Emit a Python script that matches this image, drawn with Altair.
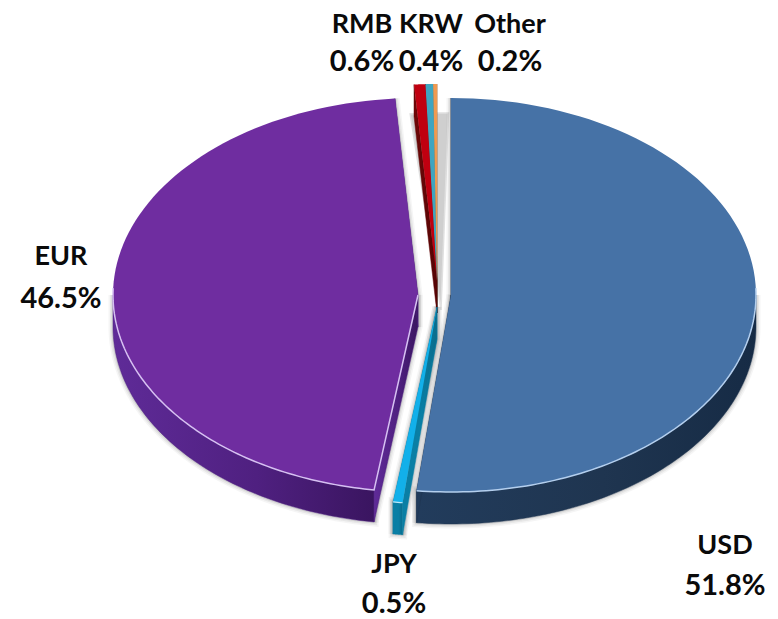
import math
import altair as alt

# Currency shares in percent, clockwise from twelve o'clock
currencies = ["USD", "JPY", "EUR", "RMB", "KRW", "Other"]
shares = [51.8, 0.5, 46.5, 0.6, 0.4, 0.2]

# Ellipse of the tilted pie and the thickness of the disc, in pixels
RX, RY, DEPTH = 305, 197, 32

# Exploded centre of each slice
centres = {
    "USD": (451, 295), "JPY": (437, 307), "EUR": (418, 295),
    "RMB": (437, 281), "KRW": (437, 281), "Other": (437, 281),
}
top_colours = {
    "USD": "#4672a6", "JPY": "#12b0ea", "EUR": "#6f2da0",
    "RMB": "#c00010", "KRW": "#3fa5c0", "Other": "#f09a50",
}
wall_colours = {
    "USD": ["#223c5c", "#1f3550", "#162b45"],
    "JPY": ["#0a7fa5", "#0a7fa5", "#0a6c8c"],
    "EUR": ["#5f2b98", "#4f2080", "#3a1560"],
    "RMB": ["#700808", "#600606", "#500505"],
    "KRW": ["#28707f", "#28707f", "#28707f"],
    "Other": ["#a86a30", "#a86a30", "#a86a30"],
}
rim_colours = {"USD": "#b4cfee", "EUR": "#d6c0f2", "JPY": "#bfeafa"}

# Cumulative start and end angle of each slice, in degrees
spans = {}
running = 0.0
for name, share in zip(currencies, shares):
    spans[name] = (running, running + share * 3.6)
    running += share * 3.6


def point(name, angle, drop=0.0):
    cx, cy = centres[name]
    t = math.radians(angle)
    return [cx + RX * math.sin(t), cy - RY * math.cos(t) + drop]


def sweep(a, b, steps=90):
    return [a + (b - a) * i / steps for i in range(steps + 1)]


def tip(name, drop=0.0):
    cx, cy = centres[name]
    return [cx, cy + drop]


def feature(kind, coords):
    geometry = {"type": kind, "coordinates": [coords] if kind == "Polygon" else coords}
    return alt.Data(values=[{"type": "Feature", "properties": {}, "geometry": geometry}])


def polygon(coords, **style):
    ring = coords + [coords[0]]
    return alt.Chart(feature("Polygon", ring)).mark_geoshape(**style)


def polyline(coords, **style):
    return alt.Chart(feature("LineString", coords)).mark_geoshape(filled=False, **style)


def wall_fill(name):
    low, mid, high = wall_colours[name]
    return alt.Gradient(
        gradient="linear", x1=0, x2=1, y1=0, y2=0,
        stops=[
            alt.GradientStop(offset=0, color=low),
            alt.GradientStop(offset=0.55, color=mid),
            alt.GradientStop(offset=1, color=high),
        ],
    )


def wall_faces(name):
    """Outer curved wall (front half only) and the two cut faces of a slice."""
    a, b = spans[name]
    faces = []
    front_a, front_b = max(a, 90), min(b, 270)
    if front_a < front_b:
        angles = sweep(front_a, front_b)
        faces.append(
            [point(name, t) for t in angles]
            + [point(name, t, DEPTH) for t in reversed(angles)]
        )
    for edge in (a, b):
        faces.append(
            [tip(name), point(name, edge), point(name, edge, DEPTH), tip(name, DEPTH)]
        )
    return faces


layers = []

# Soft grey shadows cast behind the thin slices at the back of the pie
shadow_cx, shadow_cy = 441, 310
shadow = [[shadow_cx, shadow_cy]] + [
    [shadow_cx + RX * math.sin(math.radians(t)), shadow_cy - RY * math.cos(math.radians(t))]
    for t in sweep(-5.8, 1.4, 10)
]
layers.append(polygon(shadow, fill="#bcbcbc", opacity=0.7, stroke="#d4d4d4", strokeWidth=1.5))

# Blurry halo around the disc walls
for name in ["EUR", "USD", "JPY"]:
    for face in wall_faces(name):
        for width, alpha in ((9, 0.08), (6, 0.12), (3, 0.2)):
            layers.append(
                polygon(face, fill="#808080", fillOpacity=0, stroke="#808080",
                        strokeWidth=width, strokeOpacity=alpha)
            )

# Walls, painted back to front
for name in ["Other", "KRW", "RMB", "EUR", "USD", "JPY"]:
    for face in wall_faces(name):
        layers.append(polygon(face, fill=wall_fill(name), stroke=wall_colours[name][1], strokeWidth=0.5))

# Top faces of the slices
for name in ["EUR", "USD", "RMB", "KRW", "Other", "JPY"]:
    a, b = spans[name]
    outline = [tip(name)] + [point(name, t) for t in sweep(a, b)]
    layers.append(polygon(outline, fill=top_colours[name]))

# Light rims catching the front edges of the large slices
layers.append(polyline(
    [tip("EUR")] + [point("EUR", t) for t in sweep(spans["EUR"][0], 272)],
    stroke=rim_colours["EUR"], strokeWidth=1.5,
))
layers.append(polyline(
    [point("USD", t) for t in sweep(88, spans["USD"][1])],
    stroke=rim_colours["USD"], strokeWidth=1.5,
))
layers.append(polyline(
    [point("JPY", t) for t in sweep(*spans["JPY"], 4)],
    stroke=rim_colours["JPY"], strokeWidth=1.2,
))


# Two-line captions: currency name over its percentage
def caption(name, x, y_name, y_share):
    share = shares[currencies.index(name)]
    rows = alt.Data(values=[{"name": name, "share": f"{share}%"}])
    style = dict(font="Lato", fontWeight="bold", color="#0a0a0a",
                 align="center", baseline="middle")
    return [
        alt.Chart(rows).mark_text(x=x, y=y_name, fontSize=27, **style).encode(text="name:N"),
        alt.Chart(rows).mark_text(x=x, y=y_share, fontSize=29, **style).encode(text="share:N"),
    ]


layers += caption("RMB", 362, 25, 62)
layers += caption("KRW", 431, 25, 62)
layers += caption("Other", 510, 25, 62)
layers += caption("EUR", 61, 257, 299)
layers += caption("JPY", 394, 565, 604)
layers += caption("USD", 725, 546, 586)

chart = (
    alt.layer(*layers)
    .project(type="identity", scale=1, translate=[0, 0])
    .properties(width=778, height=619, padding=0, autosize=alt.AutoSizeParams(type="none"))
    .configure_view(stroke=None)
)

chart.save("out.html", embed_options={"renderer": "svg", "actions": False})
